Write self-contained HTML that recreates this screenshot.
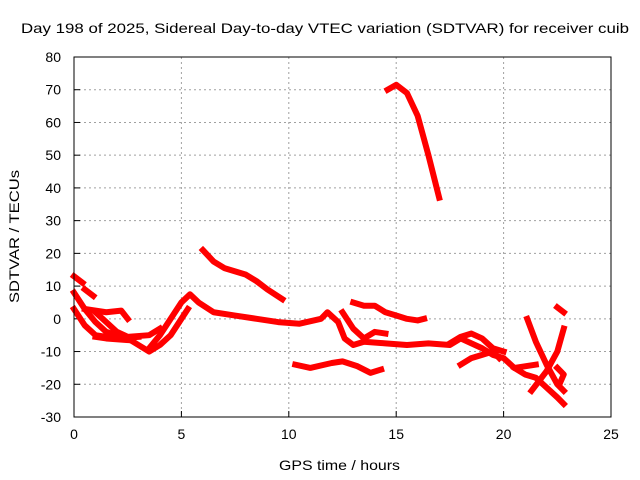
<!DOCTYPE html>
<html><head><meta charset="utf-8"><style>
body{margin:0;background:#fff;}
svg{display:block;font-family:"Liberation Sans",sans-serif;font-size:14px;}
</style></head><body>
<svg id="chart" width="640" height="480" viewBox="0 0 640 480">
<rect width="640" height="480" fill="#fff"/>
<text x="21" y="33" font-size="14" textLength="608" lengthAdjust="spacingAndGlyphs">Day 198 of 2025, Sidereal Day-to-day VTEC variation (SDTVAR) for receiver cuib</text>
<g id="grid"></g>
<g id="axes"></g>
<g id="series"></g>
<rect x="74" y="57" width="537" height="360" fill="none" stroke="#000" stroke-width="1"/>
<text x="279" y="470" textLength="121" lengthAdjust="spacingAndGlyphs">GPS time / hours</text>
<text transform="translate(19,303) rotate(-90)" textLength="133" lengthAdjust="spacingAndGlyphs">SDTVAR / TECUs</text>
</svg>
<script>
const xTicks=[0,5,10,15,20,25];
const yTicks=[-30,-20,-10,0,10,20,30,40,50,60,70,80];
const segA=[[14.6,70],[15,71.5],[15.5,69],[16,62],[16.5,50],[17,37]];
const segB=[[6,21],[6.5,17.5],[7,15.5],[7.5,14.5],[8,13.5],[8.5,11.5],[9,9],[9.7,6]];
const segC=[[3.5,-9],[4,-5],[4.5,0],[5,5],[5.4,7.5],[5.8,5],[6.5,2],[7.5,1],[8.5,0],[9.5,-1],[10.5,-1.5],[11.5,0],[11.8,2],[12.3,-1],[12.6,-6],[13,-8],[13.5,-7],[14.5,-7.5],[15.5,-8],[16.5,-7.5],[17.5,-8],[18,-6],[19,-9],[19.5,-11],[20,-12],[20.5,-15],[21.5,-14]];
const segD1=[[0,13],[0.4,11]];
const segD2=[[0.5,9],[0.9,7]];
const segD=[[0,8],[0.5,3],[1,-1],[1.5,-4],[2.5,-6],[3,-8],[3.5,-10],[4,-8],[4.5,-5],[5,0],[5.3,3]];
const segE=[[0,3],[0.5,-2],[1,-5],[2,-6],[3,-5.5]];
const segF=[[0.5,3],[1.5,2],[2.2,2.5],[2.5,0]];
const segG=[[1,2],[1.5,-1],[2,-4],[2.5,-5.5],[3.5,-5],[4,-3]];
const segH=[[1,-5.5],[1.5,-6],[2.5,-6.5]];
const segI=[[10.3,-14],[11,-15],[12,-13.5],[12.5,-13],[13.2,-14.5],[13.8,-16.5],[14.3,-15.5]];
const segJ=[[13,5],[13.5,4],[14,4],[14.5,2],[15,1],[15.5,0],[16,-0.5],[16.3,0]];
const segK=[[12.5,2],[13,-3],[13.5,-6],[14,-4],[14.5,-4.5]];
const segL=[[17.5,-7.5],[18,-5.5],[18.5,-4.5],[19,-6],[19.5,-9],[20,-10]];
const segM=[[18,-14],[18.5,-12],[19,-11],[19.5,-10],[19.8,-12]];
const segN=[[21.1,0],[21.5,-7],[22,-14],[22.5,-20],[22.8,-22]];
const segO=[[20.5,-15],[21,-17],[21.5,-18],[22,-21],[22.5,-24],[22.8,-26]];
const segP=[[21.3,-22],[22,-16],[22.5,-10],[22.8,-3]];
const segQ=[[22.5,-15],[22.8,-17],[22.6,-20]];
const segR=[[22.5,3.5],[22.8,2]];
const segments=[segA,segB,segC,segD1,segD2,segD,segE,segF,segG,segH,segI,segJ,segK,segL,segM,segN,segO,segP,segQ,segR];

const X0=74,X1=611,Y0=417,Y1=57;
const xs=h=>X0+(h-0)/(25-0)*(X1-X0);
const ys=v=>Y0-(v+30)/(110)*(Y0-Y1);
const NS='http://www.w3.org/2000/svg';
const grid=document.getElementById('grid'),axes=document.getElementById('axes'),ser=document.getElementById('series');
function mk(t,a){const e=document.createElementNS(NS,t);for(const k in a)e.setAttribute(k,a[k]);return e;}
xTicks.forEach(t=>{
  const x=xs(t);
  if(t>0&&t<25){const g=mk('line',{x1:x,x2:x,y1:Y1,y2:Y0,stroke:'#a0a0a0','stroke-dasharray':'2,3'});
  
  grid.appendChild(g);}
  const tk=mk('line',{x1:x,x2:x,y1:Y0,y2:Y0-6,stroke:'#000'});
  
  axes.appendChild(tk);
  const lb=mk('text',{x:x,y:Y0+22,'text-anchor':'middle'});lb.textContent=t;
  
  axes.appendChild(lb);
});
yTicks.forEach(t=>{
  const y=ys(t);
  if(t>-30&&t<80){const g=mk('line',{x1:X0,x2:X1,y1:y,y2:y,stroke:'#a0a0a0','stroke-dasharray':'2,3'});
  
  grid.appendChild(g);}
  const tk=mk('line',{x1:X0,x2:X0+6,y1:y,y2:y,stroke:'#000'});
  
  axes.appendChild(tk);
  const lb=mk('text',{x:X0-13,y:y+5,'text-anchor':'end'});lb.textContent=t;
  
  axes.appendChild(lb);
});
segments.forEach(s=>{
  const p=mk('polyline',{points:s.map(d=>xs(d[0])+','+ys(d[1])).join(' '),fill:'none',stroke:'#ff0000','stroke-width':6,'stroke-linejoin':'round','stroke-linecap':'square'});
  
  
  ser.appendChild(p);
});
</script>
</body></html>
